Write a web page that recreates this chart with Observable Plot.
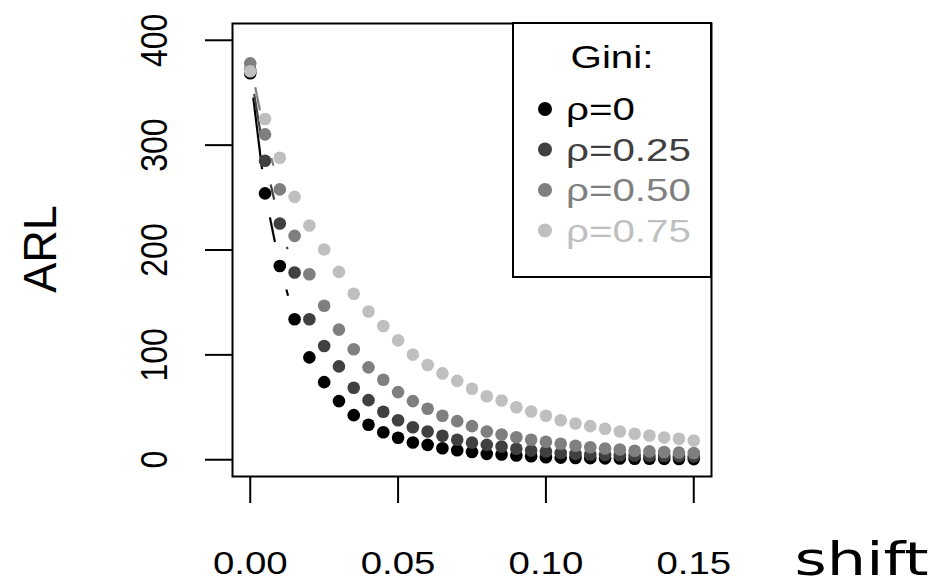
<!DOCTYPE html>
<html><head><meta charset="utf-8">
<script src="https://cdn.jsdelivr.net/npm/d3@7"></script>
<script src="https://cdn.jsdelivr.net/npm/@observablehq/plot@0.6"></script>
<style>
html,body{margin:0;padding:0;background:#fff;}
#wrap{position:relative;width:950px;height:585px;overflow:hidden;background:#fff;}
#legend{position:absolute;left:512px;top:22px;}
</style></head><body><div id="wrap"></div>
<script>
// ---- data ----
const shift = [0.000,0.005,0.010,0.015,0.020,0.025,0.030,0.035,0.040,0.045,0.050,0.055,0.060,0.065,0.070,0.075,0.080,0.085,0.090,0.095,0.100,0.105,0.110,0.115,0.120,0.125,0.130,0.135,0.140,0.145,0.150];
const arlRho0   = [368.5,254.0,184.8,133.9,97.6,74.0,55.9,42.5,33.3,26.2,20.9,16.4,14.2,11.0,9.0,7.3,5.6,5.0,4.0,3.3,2.4,2.0,1.7,1.5,1.3,1.1,1.0,0.9,0.8,0.7,0.6];
const arlRho025 = [372.0,285.1,225.3,178.5,133.9,108.4,89.0,68.7,56.8,45.7,37.7,31.0,26.9,22.8,19.0,16.3,14.2,12.6,10.4,8.8,7.8,6.4,5.6,5.0,4.6,4.3,4.0,3.8,3.6,3.4,3.2];
const arlRho050 = [378.0,310.3,257.8,213.5,176.9,146.8,124.1,105.3,88.1,76.3,64.5,55.9,48.6,41.9,36.8,32.0,26.9,24.1,21.5,19.0,17.1,15.2,13.3,11.9,10.7,9.7,8.6,8.0,7.3,6.8,6.4];
const arlRho075 = [370.5,324.9,288.0,250.7,223.4,200.5,179.1,158.3,141.3,127.5,113.8,100.2,90.3,82.3,75.2,67.7,60.6,56.5,50.1,46.0,41.9,37.7,34.6,32.0,29.5,26.9,24.7,23.1,21.2,20.0,18.3];
const seriesValues = [arlRho0, arlRho025, arlRho050, arlRho075];
const seriesLabels = ["ρ=0","ρ=0.25","ρ=0.50","ρ=0.75"];
const seriesColors = ["#000000","#404040","#7f7f7f","#bfbfbf"];
const legendTitle = "Gini:";
const xTicks = [0, 0.05, 0.10, 0.15];
const xTickLabels = ["0.00","0.05","0.10","0.15"];
const yTicks = [0, 100, 200, 300, 400];
const yTickLabels = ["0","100","200","300","400"];
const xLabel = "shift";
const yLabel = "ARL";

// ---- layout ----
const W = 950, H = 585;
const mL = 232, mR = 239, mT = 23, mB = 109;
const xDomain = [-0.006, 0.156];
const yDomain = [-16, 416];
const GAP = 24.5; // R type="b" gap around points, px

const xs = Plot.scale({x: {domain: xDomain, range: [mL, W - mR]}});
const ys = Plot.scale({y: {domain: yDomain, range: [H - mB, mT]}});

const marks = [];
seriesValues.forEach((vals, si) => {
  const pts = shift.map((s, i) => ({x: s, y: vals[i]}));
  const segs = [];
  for (let i = 0; i < pts.length - 1; i++) {
    const a = pts[i], b = pts[i + 1];
    const dx = xs.apply(b.x) - xs.apply(a.x), dy = ys.apply(b.y) - ys.apply(a.y);
    const len = Math.hypot(dx, dy);
    if (len > 2 * GAP) {
      const t1 = GAP / len, t2 = 1 - GAP / len;
      segs.push({x1: a.x + t1 * (b.x - a.x), y1: a.y + t1 * (b.y - a.y),
                 x2: a.x + t2 * (b.x - a.x), y2: a.y + t2 * (b.y - a.y)});
    }
  }
  marks.push(Plot.link(segs, {x1: "x1", y1: "y1", x2: "x2", y2: "y2", stroke: seriesColors[si], strokeWidth: 2.2}));
  marks.push(Plot.dot(pts, {x: "x", y: "y", r: 6.3, fill: seriesColors[si], stroke: "none"}));
});

marks.push(Plot.frame({stroke: "#000", strokeWidth: 2}));
marks.push(Plot.axisX(xTicks, {anchor: "bottom", tickSize: 27, tickFormat: () => "", strokeWidth: 2, label: null}));
marks.push(Plot.axisY(yTicks, {anchor: "left", tickSize: 27, tickFormat: () => "", strokeWidth: 2, label: null}));
// tick labels
marks.push(Plot.text(xTicks, {x: d => d, text: (d, i) => xTickLabels[i], frameAnchor: "bottom", dy: 97,
  lineAnchor: "bottom", textAnchor: "middle", fontSize: 32, fontFamily: "Liberation Sans", fill: "#000"}));
marks.push(Plot.text(yTicks, {y: d => d, text: (d, i) => yTickLabels[i], frameAnchor: "left", dx: -66, rotate: -90,
  lineAnchor: "bottom", textAnchor: "middle", fontSize: 32, fontFamily: "Liberation Sans", fill: "#000"}));
// axis titles
marks.push(Plot.text([yLabel], {text: d => d, frameAnchor: "left", dx: -177, dy: -1, rotate: -90,
  lineAnchor: "bottom", textAnchor: "middle", fontSize: 45, fontFamily: "Liberation Sans", fill: "#000"}));
marks.push(Plot.text([xLabel], {text: d => d, frameAnchor: "bottom-right", dx: 150, dy: 98,
  lineAnchor: "bottom", textAnchor: "middle", fontSize: 46, fontFamily: "DejaVu Sans", fill: "#000"}));

const chart = Plot.plot({
  width: W, height: H,
  marginLeft: mL, marginRight: mR, marginTop: mT, marginBottom: mB,
  x: {domain: xDomain, axis: null},
  y: {domain: yDomain, axis: null},
  style: {background: "#fff", fontFamily: "Liberation Sans, Arial, sans-serif", overflow: "visible"},
  marks
});
document.getElementById("wrap").appendChild(chart);

// horizontal stretch of text, as in the reference rendering
function stretchText(el, sx, sy) {
  const x = el.getAttribute("x"), y = el.getAttribute("y");
  let t = el.getAttribute("transform") || "";
  if (x != null || y != null) {
    t = `${t} translate(${x || 0},${y || 0})`;
    el.removeAttribute("x"); el.removeAttribute("y");
  }
  el.setAttribute("transform", `${t} scale(${sx},${sy})`);
}
const textGroups = chart.querySelectorAll('g[aria-label="text"]');
const stretch = [[1.2, 1], [1, 1.17], [1, 1.03], [1.35, 1]];
textGroups.forEach((g, gi) => {
  const [sx, sy] = stretch[gi] || [1, 1];
  g.querySelectorAll("text").forEach(t => stretchText(t, sx, sy));
});

// ---- legend ----
const lg = d3.select("#wrap").append("svg").attr("id", "legend")
  .attr("width", 200).attr("height", 256)
  .style("font-family", "Liberation Sans, Arial, sans-serif");
lg.append("rect").attr("x", 1).attr("y", 1).attr("width", 198).attr("height", 254)
  .attr("fill", "#fff").attr("stroke", "#000").attr("stroke-width", 2);
lg.append("text").attr("transform", "translate(100,46) scale(1.3,1)")
  .attr("text-anchor", "middle").attr("font-size", 31).attr("fill", "#000").text(legendTitle);
seriesLabels.forEach((lab, i) => {
  lg.append("circle").attr("cx", 33).attr("cy", 87 + 40.5 * i).attr("r", 7).attr("fill", seriesColors[i]);
  lg.append("text").attr("transform", `translate(54,${98 + 40.5 * i}) scale(1.3,1)`)
    .attr("font-size", 31).attr("fill", seriesColors[i]).text(lab);
});
</script></body></html>
